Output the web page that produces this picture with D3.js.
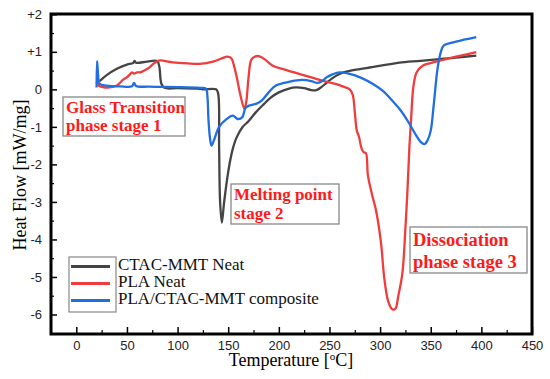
<!DOCTYPE html>
<html>
<head>
<meta charset="utf-8">
<script src="https://cdn.jsdelivr.net/npm/d3@7"></script>
<style>
  body { margin: 0; background: #fff; }
</style>
</head>
<body>
<script>
// temperature [C], heat flow [mW/mg]
var ctacMmt = [[23,0.22],[30,0.38],[40,0.55],[50,0.66],[56,0.7],[57.5,0.76],[59,0.71],[70,0.74],[80,0.75],[82,0.6],
    [84,0.15],[87,0.04],[100,0.03],[120,0.02],[125,0.0],[138,0.0],[140,-0.1],[141,-1.5],[142,-3.0],[143.7,-3.55],
    [146,-3.0],[150,-2.2],[154,-1.64],[158,-1.3],[164,-1.01],[170,-0.85],[177,-0.62],[185,-0.4],[192,-0.22],[200,-0.08],
    [210,0.02],[217,0.05],[225,0.03],[232,-0.02],[237,-0.02],[242,0.06],[247,0.17],[253,0.3],[260,0.41],[270,0.49],
    [280,0.54],[292,0.59],[305,0.65],[319,0.71],[340,0.76],[360,0.81],[380,0.86],[395,0.9]];

var plaNeat = [[20,0.2],[22,0.1],[26,0.06],[33,0.05],[40,0.1],[46,0.25],[50,0.32],[53,0.4],[55,0.45],[57,0.42],
    [60,0.45],[64,0.46],[67,0.5],[72,0.58],[76,0.68],[80,0.75],[83,0.77],[95,0.72],[110,0.69],[122,0.68],[135,0.74],
    [145,0.84],[149,0.87],[153,0.83],[156,0.6],[159,0.25],[162,-0.15],[166,-0.52],[168,-0.3],[170,0.3],[173,0.8],
    [177,0.88],[181,0.88],[187,0.78],[194,0.63],[205,0.53],[220,0.41],[232,0.32],[243,0.23],[255,0.15],[263,0.08],
    [270,0.0],[273,-0.15],[275,-0.6],[277,-1.1],[279,-1.25],[282,-1.6],[284,-1.68],[286,-1.7],[288,-2.3],[292,-2.8],
    [296,-3.23],[301,-4.12],[304,-5.0],[308,-5.65],[312,-5.86],[315,-5.85],[318,-5.5],[322,-4.9],[325,-3.7],[327,-2.7],
    [329,-1.5],[331,-0.6],[333,0.1],[336,0.45],[342,0.63],[350,0.7],[360,0.77],[375,0.87],[395,0.99]];

var composite = [[20,0.05],[20.5,0.75],[21.5,0.4],[23,0.15],[30,0.1],[43,0.08],[55,0.08],[57,0.17],[59,0.09],[72,0.07],
    [100,0.06],[122,0.04],[128,0.02],[129.5,-0.2],[130.5,-0.8],[132,-1.3],[133.5,-1.5],[136,-1.35],[141,-1.0],[148,-0.8],
    [154.5,-0.7],[159.5,-0.79],[164,-0.74],[167,-0.5],[171,-0.43],[178,-0.38],[183,-0.3],[190,-0.08],[197,0.1],[210,0.2],
    [223,0.25],[232,0.22],[238,0.17],[243,0.22],[247,0.32],[253,0.4],[260,0.45],[270,0.41],[282,0.3],[293,0.14],
    [303,-0.05],[312,-0.3],[320,-0.55],[327,-0.83],[335,-1.2],[340,-1.4],[344,-1.46],[347,-1.35],[350,-1.1],[353,-0.4],
    [356.7,0.55],[360,1.0],[363,1.17],[375,1.27],[395,1.39]];

var seriesNames = ['CTAC-MMT Neat', 'PLA Neat', 'PLA/CTAC-MMT composite'];
var seriesColors = ['#444444', '#f03c3c', '#1f6fe0'];
var xTicks = [0, 50, 100, 150, 200, 250, 300, 350, 400, 450];
var yTicks = [2, 1, 0, -1, -2, -3, -4, -5, -6];
var yTickLabels = ['+2', '+1', '0', '-1', '-2', '-3', '-4', '-5', '-6'];

var width = 550, height = 379;
var plotLeft = 51, plotRight = 532, plotTop = 14, plotBottom = 334;

var svg = d3.select('body').append('svg')
    .attr('width', width)
    .attr('height', height);

var x = d3.scaleLinear().domain([-25, 450]).range([plotLeft, plotRight]);
var y = d3.scaleLinear().domain([-6.52, 2.0]).range([plotBottom, plotTop + 0.3]);

// minor ticks
var xMinor = d3.range(25, 450, 50);
var yMinor = d3.range(-6.5, 2, 1);

svg.append('g')
    .attr('transform', 'translate(0,' + plotBottom + ')')
    .call(d3.axisBottom(x).tickValues(xTicks).tickSizeInner(-7).tickSizeOuter(0).tickPadding(7))
    .call(function(g) {
        g.select('.domain').remove();
        g.selectAll('.tick line').attr('stroke-width', 1.5);
        g.selectAll('text').attr('font-family', 'Liberation Sans, Arial, sans-serif').attr('font-size', 13).attr('fill', '#222');
    });

svg.append('g')
    .attr('transform', 'translate(0,' + plotBottom + ')')
    .call(d3.axisBottom(x).tickValues(xMinor).tickSizeInner(-4).tickSizeOuter(0).tickFormat(''))
    .call(function(g) { g.select('.domain').remove(); g.selectAll('.tick line').attr('stroke-width', 1.2); });

svg.append('g')
    .attr('transform', 'translate(' + plotLeft + ',0)')
    .call(d3.axisLeft(y).tickValues(yTicks).tickSizeInner(-6).tickSizeOuter(0).tickPadding(9)
        .tickFormat(function(d, i) { return yTickLabels[i]; }))
    .call(function(g) {
        g.select('.domain').remove();
        g.selectAll('.tick line').attr('stroke-width', 1.5);
        g.selectAll('text').attr('font-family', 'Liberation Sans, Arial, sans-serif').attr('font-size', 13).attr('fill', '#222');
    });

svg.append('g')
    .attr('transform', 'translate(' + plotLeft + ',0)')
    .call(d3.axisLeft(y).tickValues(yMinor).tickSizeInner(-3).tickSizeOuter(0).tickFormat(''))
    .call(function(g) { g.select('.domain').remove(); g.selectAll('.tick line').attr('stroke-width', 1.2); });

// curves
var line = d3.line()
    .x(function(d) { return x(d[0]); })
    .y(function(d) { return y(d[1]); })
    .curve(d3.curveCatmullRom.alpha(0.5));

var allSeries = [ctacMmt, plaNeat, composite];
svg.selectAll('path.curve').data(allSeries).enter().append('path')
    .attr('class', 'curve')
    .attr('d', line)
    .attr('fill', 'none')
    .attr('stroke', function(d, i) { return seriesColors[i]; })
    .attr('stroke-width', 2.3)
    .attr('stroke-linejoin', 'round');

// frame
svg.append('rect')
    .attr('x', plotLeft).attr('y', plotTop)
    .attr('width', plotRight - plotLeft).attr('height', plotBottom - plotTop)
    .attr('fill', 'none').attr('stroke', '#000').attr('stroke-width', 3);

// axis titles
svg.append('text')
    .attr('x', 291).attr('y', 366)
    .attr('text-anchor', 'middle')
    .attr('font-family', 'Liberation Serif, Times New Roman, serif')
    .attr('font-size', 18)
    .html('Temperature [<tspan dy="-6" font-size="11">o</tspan><tspan dy="6">C]</tspan>');

svg.append('text')
    .attr('transform', 'translate(26,175) rotate(-90)')
    .attr('text-anchor', 'middle')
    .attr('font-family', 'Liberation Serif, Times New Roman, serif')
    .attr('font-size', 18)
    .text('Heat Flow [mW/mg]');

// legend
svg.append('rect')
    .attr('x', 69).attr('y', 257).attr('width', 47).attr('height', 55)
    .attr('fill', 'none').attr('stroke', '#888').attr('stroke-width', 1.2);

var legend = svg.selectAll('g.legend').data(seriesNames).enter().append('g')
    .attr('class', 'legend')
    .attr('transform', function(d, i) { return 'translate(71,' + (266.5 + i * 17) + ')'; });

legend.append('line')
    .attr('x1', 0).attr('x2', 39)
    .attr('stroke', function(d, i) { return seriesColors[i]; })
    .attr('stroke-width', 3);

legend.append('text')
    .attr('x', 47).attr('y', 3)
    .attr('font-family', 'Liberation Serif, Times New Roman, serif')
    .attr('font-size', 17)
    .attr('fill', '#111')
    .text(function(d) { return d; });

// annotations
var notes = [
    { lines: ['Glass Transition', 'phase stage 1'], box: [63, 97, 122, 39], size: 17 },
    { lines: ['Melting point', 'stage 2'], box: [231, 184, 108, 40], size: 17 },
    { lines: ['Dissociation', 'phase stage 3'], box: [410, 227, 117, 46], size: 18.5 }
];

notes.forEach(function(n) {
    svg.append('rect')
        .attr('x', n.box[0]).attr('y', n.box[1])
        .attr('width', n.box[2]).attr('height', n.box[3])
        .attr('fill', '#fff').attr('stroke', '#888').attr('stroke-width', 1.3);
    var gap = (n.box[3] - 2) / 2;
    n.lines.forEach(function(t, i) {
        svg.append('text')
            .attr('x', n.box[0] + 3)
            .attr('y', n.box[1] + gap * (i + 1) - 3)
            .attr('font-family', 'Liberation Serif, Times New Roman, serif')
            .attr('font-weight', 'bold')
            .attr('font-size', n.size)
            .attr('fill', '#ff1a1a')
            .text(t);
    });
});
</script>
</body>
</html>
